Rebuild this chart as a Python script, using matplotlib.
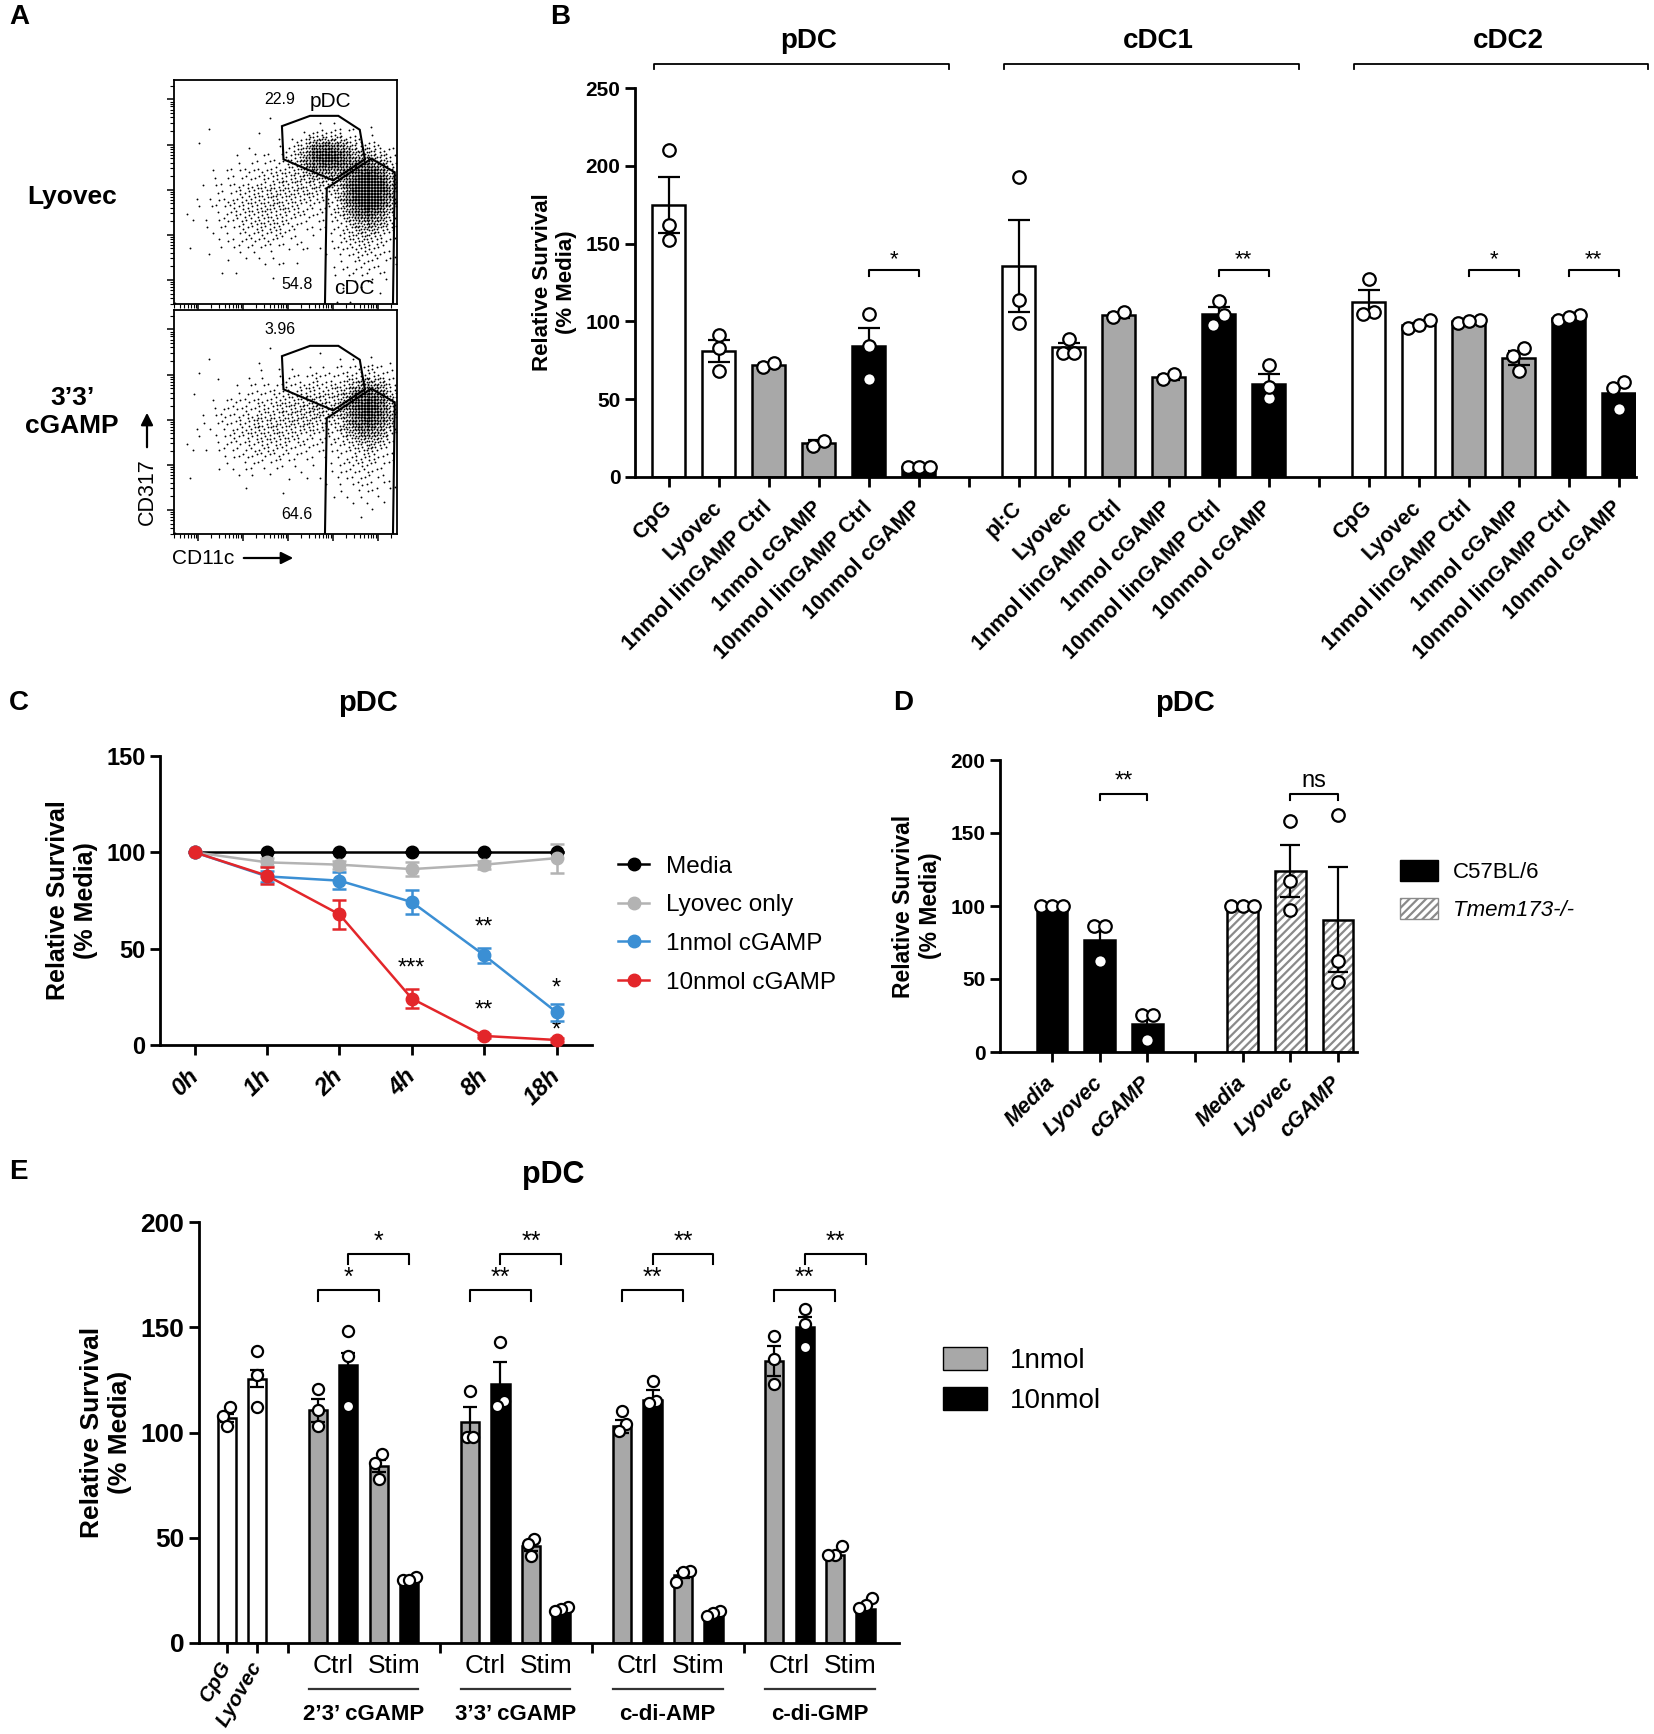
import numpy as np
import matplotlib
matplotlib.use("Agg")
import matplotlib.pyplot as plt
import matplotlib.transforms as mtransforms
from matplotlib.patches import Polygon, Patch, FancyArrowPatch
from matplotlib.lines import Line2D

W, H = 1654, 1734
SANS = ['Liberation Sans', 'DejaVu Sans']
NARROW = ['Liberation Sans Narrow', 'Liberation Sans', 'DejaVu Sans']
GRAY = '#a8a8a8'
plt.rcParams['font.family'] = SANS
plt.rcParams['hatch.linewidth'] = 1.6

# ---------------- data ----------------
# A: flow cytometry, populations (axes fraction units)
a_samples = ['Lyovec', '3\u20193\u2019\ncGAMP']
a_pdc_pct = ['22.9', '3.96']
a_cdc_pct = ['54.8', '64.6']
# cluster centre x, centre y, spread x, spread y, density
a_clusters_lyovec = [(0.69, 0.66, 0.07, 0.05, 0.95), (0.87, 0.51, 0.065, 0.085, 1.4),
                     (0.40, 0.43, 0.13, 0.12, 0.15), (0.60, 0.55, 0.10, 0.08, 0.14),
                     (0.85, 0.30, 0.08, 0.12, 0.12)]
a_clusters_cgamp = [(0.66, 0.64, 0.10, 0.06, 0.07), (0.87, 0.56, 0.065, 0.08, 1.0),
                    (0.42, 0.48, 0.14, 0.11, 0.15), (0.63, 0.55, 0.10, 0.07, 0.15),
                    (0.85, 0.35, 0.08, 0.12, 0.10)]
a_pdc_gate = [(0.484, 0.794), (0.610, 0.840), (0.737, 0.840), (0.833, 0.778),
              (0.856, 0.646), (0.714, 0.552), (0.491, 0.646)]
a_cdc_gate = [(0.677, 0.0), (0.685, 0.517), (0.885, 0.649), (0.990, 0.588), (0.982, 0.0)]

# B
b_groups = ['pDC', 'cDC1', 'cDC2']
b_labels = [['CpG', 'Lyovec', '1nmol linGAMP Ctrl', '1nmol cGAMP', '10nmol linGAMP Ctrl', '10nmol cGAMP'],
            ['pI:C', 'Lyovec', '1nmol linGAMP Ctrl', '1nmol cGAMP', '10nmol linGAMP Ctrl', '10nmol cGAMP'],
            ['CpG', 'Lyovec', '1nmol linGAMP Ctrl', '1nmol cGAMP', '10nmol linGAMP Ctrl', '10nmol cGAMP']]
b_mean = [[175, 81, 72, 22, 84, 6.5],
          [135.5, 83.5, 104, 64, 104.5, 59.5],
          [112.5, 98, 100.5, 76.5, 102.5, 54]]
b_sem = [[18, 7, 1, 1.5, 12, 0.5],
         [29.5, 2.5, 1.5, 1.5, 4.5, 6.5],
         [7.5, 1, 1, 4.5, 1, 4.5]]
b_points = [[[210, 162, 152], [91, 83, 68], [71, 73.5], [20, 23], [105, 84, 63], [6.7, 6.7, 6.7]],
            [[193, 114, 99], [89, 80, 80], [103, 106], [63, 66], [113, 98, 104], [72, 51, 58]],
            [[127, 106, 105], [95.5, 101, 98], [99, 101, 100], [83, 78, 68], [101, 104, 103], [61, 57, 44]]]
# (group, bar i, bar j, height, label)
b_sig = [(0, 4, 5, 133, '*'), (1, 4, 5, 133, '**'), (2, 2, 3, 133, '*'), (2, 4, 5, 133, '**')]

# C
c_times = ['0h', '1h', '2h', '4h', '8h', '18h']
c_series = ['Media', 'Lyovec only', '1nmol cGAMP', '10nmol cGAMP']
c_mean = [[100, 100, 100, 100, 100, 100],
          [100, 94.8, 93.6, 91.3, 93.6, 97],
          [100, 87.5, 85.3, 74.2, 46.6, 17],
          [100, 87.9, 67.8, 24.1, 4.7, 2.6]]
c_sem = [[0, 0, 0, 0, 0, 0],
         [0, 2, 2, 3.5, 2, 7.5],
         [0, 3, 4.5, 6, 4, 4.5],
         [0, 4.5, 7.6, 5, 1, 0.8]]
# (time index, height, label)
c_sig = [(4, 61, '**'), (3, 39.5, '***'), (5, 29.5, '*'), (4, 18, '**'), (5, 7.5, '*')]

# D
d_labels = ['Media', 'Lyovec', 'cGAMP']
d_strains = ['C57BL/6', 'Tmem173-/-']
d_mean = [[100, 77, 19.5], [100, 124, 90.5]]
d_sem = [[0, 8.5, 5.5], [0, 18, 36]]
d_points = [[[100, 100, 100], [86, 86, 62], [25.5, 25.5, 8.5]],
            [[100, 100, 100], [158, 117, 97], [162, 62, 48]]]
# (strain, bar i, bar j, height, label)
d_sig = [(0, 1, 2, 176.5, '**'), (1, 1, 2, 176.5, 'ns')]

# E
e_ctrl_labels = ['CpG', 'Lyovec']
e_ctrl_mean = [107, 125.5]
e_ctrl_sem = [2, 4]
e_ctrl_points = [[112, 108, 103], [138.5, 127.5, 112]]
e_agonists = ['2\u20193\u2019 cGAMP', '3\u20193\u2019 cGAMP', 'c-di-AMP', 'c-di-GMP']
e_doses = ['1nmol', '10nmol']
# per agonist: 1nmol Ctrl, 10nmol Ctrl, 1nmol Stim, 10nmol Stim
e_mean = [[110.5, 132, 84, 29.5], [105, 123, 46, 16], [103, 115.5, 32.5, 13.5], [134, 150, 42, 16]]
e_sem = [[5.5, 6, 3, 0.5], [7, 10.5, 2.5, 0.5], [3, 4.5, 1.5, 0.7], [7, 5, 1.5, 1.5]]
e_points = [[[120.5, 110.5, 103], [148, 136.5, 112.5], [90, 85.5, 78], [31.5, 29.7, 29.7]],
            [[119.5, 98, 98], [143, 115, 112.5], [49.5, 47, 41.5], [17, 16, 15.3]],
            [[110, 104, 100.7], [124.5, 115, 114], [34, 33.8, 28.8], [15.3, 14.4, 13]],
            [[146, 135, 123], [158.8, 151.4, 140.6], [46, 42, 41.7], [21.6, 18, 16.7]]]
e_sig_low = ['*', '**', '**', '**']
e_sig_high = ['*', '**', '**', '**']
e_sig_heights = [167.6, 185]

# ---------------- helpers ----------------
fig = plt.figure(figsize=(W / 100, H / 100), dpi=100)


def add_axes_px(left, top, right, bottom):
    return fig.add_axes([left / W, 1 - bottom / H, (right - left) / W, (bottom - top) / H])


def fy(ypx):
    return 1 - ypx / H


def spread(values, thr, dx):
    values = np.asarray(values, float)
    order = np.argsort(values)
    offs = np.zeros(len(values))
    clusters = [[order[0]]]
    for k in order[1:]:
        if values[k] - values[clusters[-1][-1]] < thr:
            clusters[-1].append(k)
        else:
            clusters.append([k])
    for c in clusters:
        for m, k in enumerate(c):
            offs[k] = (m - (len(c) - 1) / 2) * dx
    return offs


def draw_bars(ax, xs, means, sems, points, colors, width, ms, thr, dx, cap, hatched=False):
    for x, m, s, pts, col in zip(xs, means, sems, points, colors):
        if hatched:
            ax.bar(x, m, width, color='white', edgecolor='#8a8a8a', hatch='////', lw=0, zorder=2)
            ax.bar(x, m, width, fill=False, edgecolor='black', lw=1.8, zorder=2)
        else:
            ax.bar(x, m, width, color=col, edgecolor='black', lw=1.8, zorder=2)
        if s > 0:
            ax.errorbar(x, m, yerr=s, fmt='none', ecolor='black', elinewidth=1.6,
                        capsize=cap, capthick=1.6, zorder=3)
        offs = spread(pts, thr, dx)
        ax.plot(x + offs, pts, 'o', mfc='white', mec='black', ms=ms, mew=1.6,
                zorder=4, clip_on=False)


def bracket(ax, x1, x2, y, text, drop, fs, family, gap):
    ax.plot([x1, x1, x2, x2], [y - drop, y, y, y - drop], color='black', lw=1.5,
            clip_on=False, zorder=5)
    ax.text((x1 + x2) / 2, y + gap, text, ha='center', va='bottom', fontsize=fs,
            family=family)


def style_axis(ax, lw=2.0):
    for side in ['top', 'right']:
        ax.spines[side].set_visible(False)
    for side in ['left', 'bottom']:
        ax.spines[side].set_linewidth(lw)
    ax.tick_params(width=lw, length=7, direction='out')


def bold_ticks(labels, size, family):
    for t in labels:
        t.set_fontsize(size)
        t.set_fontweight('bold')
        t.set_family(family)


# ---------------- panel A ----------------
a_boxes = [(174, 80, 397, 304), (174, 310, 397, 534)]
a_cluster_sets = [a_clusters_lyovec, a_clusters_cgamp]
ngrid = 150
gi = np.arange(ngrid)
GI, GJ = np.meshgrid(gi, gi)
GX, GY = (GI + 0.5) / ngrid, (GJ + 0.5) / ngrid
# interleaved-gradient dither pattern, so the dot field does not look like a grid
thresh = np.mod(52.9829189 * np.mod(0.06711056 * GI + 0.00583715 * GJ, 1.0), 1.0)
major = [0.107 + 0.2015 * k for k in range(5)]
minor = [d + 0.2015 * np.log10(k) for d in [-0.0945] + major for k in range(2, 10)]
minor = [v for v in minor if 0 < v < 1]
for n, ((l, t, r, b), clusters) in enumerate(zip(a_boxes, a_cluster_sets)):
    ax = add_axes_px(l, t, r, b)
    dens = np.zeros_like(GX)
    for cx, cy, sx, sy, amp in clusters:
        dens += amp * np.exp(-0.5 * ((GX - cx) / sx) ** 2 - 0.5 * ((GY - cy) / sy) ** 2)
    mask = dens > thresh
    ax.scatter(GX[mask], GY[mask], s=1.8, c='black', lw=0, marker='o')
    ax.add_patch(Polygon(a_pdc_gate, closed=True, fill=False, lw=1.5, ec='black'))
    ax.add_patch(Polygon(a_cdc_gate, closed=False, fill=False, lw=1.5, ec='black'))
    ax.set_xlim(0, 1)
    ax.set_ylim(0, 1)
    for sp in ax.spines.values():
        sp.set_linewidth(1.3)
    ax.set_xticks(major)
    ax.set_yticks(major)
    ax.set_xticks(minor, minor=True)
    ax.set_yticks(minor, minor=True)
    ax.set_xticklabels([])
    ax.set_yticklabels([])
    ax.tick_params(which='major', length=5, width=1.1)
    ax.tick_params(which='minor', length=3, width=0.8)
    ax.text(0.476, 0.915, a_pdc_pct[n], ha='center', va='center', fontsize=11.5)
    ax.text(0.55, 0.087, a_cdc_pct[n], ha='center', va='center', fontsize=11.5)
    if n == 0:
        ax.text(0.70, 0.906, 'pDC', ha='center', va='center', fontsize=15)
        ax.text(0.81, 0.07, 'cDC', ha='center', va='center', fontsize=15)

fig.text(72 / W, fy(197), a_samples[0], ha='center', va='center', fontsize=19, weight='bold')
fig.text(72 / W, fy(412), a_samples[1], ha='center', va='center', fontsize=19, weight='bold',
         linespacing=1.2)
fig.text(147 / W, fy(492), 'CD317', ha='center', va='center', rotation=90, fontsize=15.5)
fig.text(203 / W, fy(558), 'CD11c', ha='center', va='center', fontsize=15)
fig.add_artist(FancyArrowPatch((147 / W, fy(450)), (147 / W, fy(410)),
                               transform=fig.transFigure, arrowstyle='-|>',
                               mutation_scale=18, lw=1.6, color='black'))
fig.add_artist(FancyArrowPatch((241 / W, fy(558)), (296 / W, fy(558)),
                               transform=fig.transFigure, arrowstyle='-|>',
                               mutation_scale=18, lw=1.6, color='black'))

# ---------------- panel B ----------------
axb = add_axes_px(635, 88, 1636, 477)
b_colors = ['white', 'white', GRAY, GRAY, 'black', 'black']
ticks, tlabels = [], []
for g, name in enumerate(b_groups):
    start = g * 7
    xs = start + np.arange(len(b_labels[g]))
    draw_bars(axb, xs, b_mean[g], b_sem[g], b_points[g], b_colors, 0.66, 9, 7, 0.22, 8)
    ticks += list(xs)
    tlabels += b_labels[g]
    if g < len(b_groups) - 1:
        ticks.append(start + 6)
        tlabels.append('')
    x1, x2 = start - 0.3, start + 5.6
    axb.plot([x1, x1, x2, x2], [262, 265.5, 265.5, 262], color='black', lw=1.3, clip_on=False)
    axb.text((x1 + x2) / 2 + 0.15, 280, name, ha='center', va='center', fontsize=20,
             weight='bold')
for g, i, j, y, lab in b_sig:
    bracket(axb, g * 7 + i, g * 7 + j, y, lab, 4, 16, SANS, 0)
axb.set_xlim(-0.68, 19.35)
axb.set_ylim(0, 250)
style_axis(axb)
axb.set_yticks(np.arange(0, 251, 50))
axb.set_xticks(ticks)
axb.set_xticklabels(tlabels, rotation=45, ha='right', va='center', rotation_mode='anchor',
                    fontsize=15.5, weight='bold')
axb.tick_params(axis='x', pad=13)
bold_ticks(axb.get_yticklabels(), 15, SANS)
axb.set_ylabel('Relative Survival\n(% Media)', fontsize=16, weight='bold', labelpad=6)

# ---------------- panel C ----------------
axc = add_axes_px(160, 756, 592, 1045)
c_colors = ['black', '#b3b3b3', '#3b8fd4', '#e3262a']
xc = np.arange(len(c_times))
for k in [3, 2, 1, 0]:
    axc.errorbar(xc, c_mean[k], yerr=c_sem[k], color=c_colors[k], marker='o', ms=9, lw=1.8,
                 capsize=5, capthick=1.8, elinewidth=1.8, zorder=3 + k * 0.1, clip_on=False)
for i, y, lab in c_sig:
    axc.text(xc[i], y, lab, ha='center', va='center', fontsize=17, family=NARROW)
axc.set_xlim(-0.48, 5.49)
axc.set_ylim(0, 150)
style_axis(axc)
axc.set_yticks([0, 50, 100, 150])
axc.set_xticks(xc)
axc.set_xticklabels(c_times, rotation=45, ha='right', va='center', rotation_mode='anchor',
                    fontsize=17, family=NARROW, style='italic', weight='bold')
axc.tick_params(axis='x', pad=13)
bold_ticks(axc.get_yticklabels(), 17, NARROW)
axc.set_ylabel('Relative Survival\n(% Media)', fontsize=18, weight='bold', labelpad=6)
fig.text(368 / W, fy(703), 'pDC', ha='center', va='center', fontsize=21, family=NARROW,
         weight='bold')
c_handles = [Line2D([0], [0], color=c, marker='o', ms=9, lw=1.8) for c in c_colors]
fig.legend(c_handles, c_series, loc='upper left', bbox_to_anchor=(596 / W, fy(834)),
           frameon=False, prop={'family': NARROW, 'size': 17.5}, handlelength=1.3,
           labelspacing=0.68, handletextpad=0.7)

# ---------------- panel D ----------------
axd = add_axes_px(1000, 760, 1357, 1052)
dticks, dlabels = [], []
for s in range(len(d_strains)):
    xs = s * 4 + np.arange(len(d_labels))
    draw_bars(axd, xs, d_mean[s], d_sem[s], d_points[s], ['black'] * 3, 0.64, 9, 7.5, 0.24, 7,
              hatched=(s == 1))
    dticks += list(xs)
    dlabels += d_labels
    if s == 0:
        dticks.append(3)
        dlabels.append('')
for s, i, j, y, lab in d_sig:
    bracket(axd, s * 4 + i, s * 4 + j, y, lab, 4, 17, NARROW, 1.5)
axd.set_xlim(-1.09, 6.4)
axd.set_ylim(0, 200)
style_axis(axd)
axd.set_yticks([0, 50, 100, 150, 200])
axd.set_xticks(dticks)
axd.set_xticklabels(dlabels, rotation=45, ha='right', va='center', rotation_mode='anchor',
                    fontsize=15.5, weight='bold', style='italic')
axd.tick_params(axis='x', pad=13)
bold_ticks(axd.get_yticklabels(), 15, NARROW)
axd.set_ylabel('Relative Survival\n(% Media)', fontsize=16.5, weight='bold', labelpad=6)
fig.text(1185 / W, fy(703), 'pDC', ha='center', va='center', fontsize=21, family=NARROW,
         weight='bold')
d_handles = [Patch(facecolor='black', edgecolor='black'),
             Patch(facecolor='white', edgecolor='#8a8a8a', hatch='////')]
legd = fig.legend(d_handles, d_strains, loc='upper left', bbox_to_anchor=(1380 / W, fy(840)),
                  frameon=False, prop={'size': 16}, handlelength=1.7, handleheight=1.1,
                  labelspacing=0.65, handletextpad=0.7)
legd.get_texts()[1].set_style('italic')

# ---------------- panel E ----------------
axe = add_axes_px(199, 1222, 899, 1643)
draw_bars(axe, np.arange(2), e_ctrl_mean, e_ctrl_sem, e_ctrl_points, ['white', 'white'],
          0.6, 8, 5, 0.22, 5)
e_colors = [GRAY, 'black', GRAY, 'black']
eticks = [0, 1]
blend = mtransforms.blended_transform_factory(axe.transData, fig.transFigure)
for a, name in enumerate(e_agonists):
    start = 3 + a * 5
    xs = start + np.arange(4)
    draw_bars(axe, xs, e_mean[a], e_sem[a], e_points[a], e_colors, 0.6, 8, 5, 0.22, 5)
    eticks.append(start - 1)
    bracket(axe, start, start + 2, e_sig_heights[0], e_sig_low[a], 5, 18, NARROW, 0)
    bracket(axe, start + 1, start + 3, e_sig_heights[1], e_sig_high[a], 5, 18, NARROW, 0)
    axe.text(start + 0.5, fy(1666), 'Ctrl', transform=blend, ha='center', va='center',
             fontsize=19, family=NARROW)
    axe.text(start + 2.5, fy(1666), 'Stim', transform=blend, ha='center', va='center',
             fontsize=19, family=NARROW)
    axe.plot([start - 0.3, start + 3.3], [fy(1689), fy(1689)], transform=blend, color='#333333',
             lw=1.6, clip_on=False)
    axe.text(start + 1.5, fy(1715), name, transform=blend, ha='center', va='center',
             fontsize=16, family=NARROW, weight='bold')
axe.set_xlim(-0.91, 22.1)
axe.set_ylim(0, 200)
style_axis(axe)
axe.set_yticks([0, 50, 100, 150, 200])
axe.set_xticks(eticks)
axe.set_xticklabels(e_ctrl_labels + [''] * 4, rotation=60, ha='right', va='center',
                    rotation_mode='anchor', fontsize=15, weight='bold', style='italic')
axe.tick_params(axis='x', pad=7)
bold_ticks(axe.get_yticklabels(), 19, NARROW)
axe.set_ylabel('Relative Survival\n(% Media)', fontsize=19, weight='bold', labelpad=6)
fig.text(553 / W, fy(1175), 'pDC', ha='center', va='center', fontsize=22, family=NARROW,
         weight='bold')
e_handles = [Patch(facecolor=GRAY, edgecolor='black'), Patch(facecolor='black', edgecolor='black')]
fig.legend(e_handles, e_doses, loc='upper left', bbox_to_anchor=(918 / W, fy(1322)),
           frameon=False, prop={'family': NARROW, 'size': 20}, handlelength=1.6,
           handleheight=0.9, labelspacing=0.45, handletextpad=0.8)

# ---------------- panel letters ----------------
for lab, x, y in [('A', 9, 17), ('B', 550, 17), ('C', 9, 703), ('D', 893, 703), ('E', 9, 1172)]:
    fig.text(x / W, fy(y), lab, ha='left', va='center', fontsize=20, weight='bold')

fig.savefig('out.png', dpi=100)
